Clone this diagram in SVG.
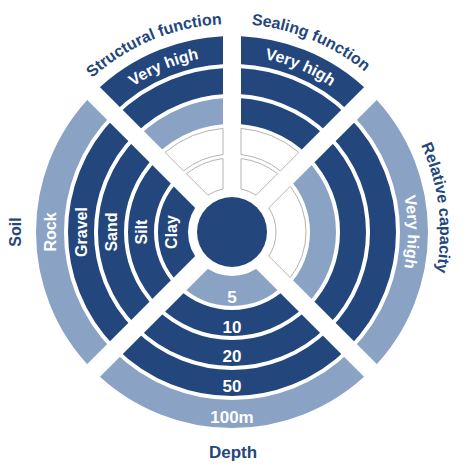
<svg xmlns="http://www.w3.org/2000/svg" width="470" height="470" viewBox="0 0 470 470">
<style>
.r{fill:none}
.dk{stroke:#23467c}
.lt{stroke:#8aa3c5}
.w1{stroke-width:30}
.w2{stroke-width:26}
.w5{stroke-width:28}
.ol{fill:#fff;stroke:#b4b4b4;stroke-width:1}
text{font-family:"Liberation Sans",Arial,sans-serif;font-weight:700}
.lab{fill:#23467c;font-size:16px}
.in{fill:#fff;font-size:16px}
.mid{text-anchor:middle}
.dep{fill:#fff;font-size:17px;text-anchor:middle}
</style>
<defs>
<clipPath id="cStruct"><polygon points="223,210.27 223,-50 -37.27,-50"/></clipPath>
<clipPath id="cSeal"><polygon points="241,210.27 241,-50 501.27,-50"/></clipPath>
<clipPath id="cRel"><polygon points="244.73,232 520,-43.27 520,507.27"/></clipPath>
<clipPath id="cDepth"><polygon points="232,244.73 -43.27,520 507.27,520"/></clipPath>
<clipPath id="cSoil"><polygon points="219.27,232 -50,501.27 -50,-37.27"/></clipPath>
<path id="pStruct" d="M 47.5 136 A 208 208 0 0 1 294.5 33.6"/>
<path id="pSeal" d="M 169.5 33.6 A 208 208 0 0 1 416.5 136"/>
<path id="pRel" d="M 374.4 80.4 A 208 208 0 0 1 406.1 345.9"/>
<path id="pStructVH" d="M 75.9 150.7 A 176 176 0 0 1 284.9 64.1"/>
<path id="pSealVH" d="M 179.1 64.1 A 176 176 0 0 1 388.1 150.7"/>
<path id="pRelVH" d="M 366.8 118.9 A 176 176 0 0 1 366.8 345.1"/>
</defs>

<g id="structural-function">
<g clip-path="url(#cStruct)">
<circle cx="232" cy="232" r="182" class="r dk w5"/>
<circle cx="232" cy="232" r="151" class="r dk w2"/>
<circle cx="232" cy="232" r="121" class="r lt w2"/>
</g>
<path class="ol" d="M 165.1 152.38 A 104 104 0 0 1 223 128.39 L 223 154.52 A 78 78 0 0 0 183.59 170.85 Z"/>
<path class="ol" d="M 186.43 173.7 A 74 74 0 0 1 223 158.55 L 223 188.93 A 44 44 0 0 0 207.91 195.18 Z"/>
<text class="lab mid"><textPath href="#pStruct" startOffset="50%">Structural function</textPath></text>
<text class="in mid"><textPath href="#pStructVH" startOffset="50%">Very high</textPath></text>
</g>

<g id="sealing-function">
<g clip-path="url(#cSeal)">
<circle cx="232" cy="232" r="182" class="r dk w5"/>
<circle cx="232" cy="232" r="151" class="r dk w2"/>
<circle cx="232" cy="232" r="121" class="r dk w2"/>
</g>
<path class="ol" d="M 241 128.39 A 104 104 0 0 1 298.9 152.38 L 280.41 170.85 A 78 78 0 0 0 241 154.52 Z"/>
<path class="ol" d="M 241 158.55 A 74 74 0 0 1 277.57 173.7 L 256.09 195.18 A 44 44 0 0 0 241 188.93 Z"/>
<text class="lab mid"><textPath href="#pSeal" startOffset="50%">Sealing function</textPath></text>
<text class="in mid"><textPath href="#pSealVH" startOffset="50%">Very high</textPath></text>
</g>

<g id="relative-capacity">
<g clip-path="url(#cRel)">
<circle cx="232" cy="232" r="182" class="r lt w5"/>
<circle cx="232" cy="232" r="151" class="r dk w2"/>
<circle cx="232" cy="232" r="121" class="r dk w2"/>
<circle cx="232" cy="232" r="91" class="r lt w2"/>
</g>
<path class="ol" d="M 290.3 186.43 A 74 74 0 0 1 290.3 277.57 L 268.82 256.09 A 44 44 0 0 0 268.82 207.91 Z"/>
<text class="lab mid"><textPath href="#pRel" startOffset="50%">Relative capacity</textPath></text>
<text class="in mid"><textPath href="#pRelVH" startOffset="50%">Very high</textPath></text>
</g>

<g id="depth">
<g clip-path="url(#cDepth)">
<circle cx="232" cy="232" r="182" class="r lt w5"/>
<circle cx="232" cy="232" r="151" class="r dk w2"/>
<circle cx="232" cy="232" r="121" class="r dk w2"/>
<circle cx="232" cy="232" r="91" class="r dk w2"/>
<circle cx="232" cy="232" r="59" class="r lt w1"/>
</g>
<text class="dep" x="232" y="302.5">5</text>
<text class="dep" x="232" y="333">10</text>
<text class="dep" x="232" y="361.5">20</text>
<text class="dep" x="232" y="391.5">50</text>
<text class="dep" x="232" y="422.5">100m</text>
<text class="lab mid" x="233" y="458" style="font-size:17px">Depth</text>
</g>

<g id="soil">
<g clip-path="url(#cSoil)">
<circle cx="232" cy="232" r="182" class="r lt w5"/>
<circle cx="232" cy="232" r="151" class="r dk w2"/>
<circle cx="232" cy="232" r="121" class="r dk w2"/>
<circle cx="232" cy="232" r="91" class="r dk w2"/>
<circle cx="232" cy="232" r="59" class="r dk w1"/>
</g>
<text class="in mid" transform="translate(56,232) rotate(-90)">Rock</text>
<text class="in mid" transform="translate(87,232) rotate(-90)">Gravel</text>
<text class="in mid" transform="translate(117,232) rotate(-90)">Sand</text>
<text class="in mid" transform="translate(147,232) rotate(-90)">Silt</text>
<text class="in mid" transform="translate(177,232) rotate(-90)">Clay</text>
<text class="lab mid" transform="translate(21,232) rotate(-90)">Soil</text>
</g>

<g id="center">
<circle cx="232" cy="232" r="35" fill="#23467c"/>
</g>
</svg>
